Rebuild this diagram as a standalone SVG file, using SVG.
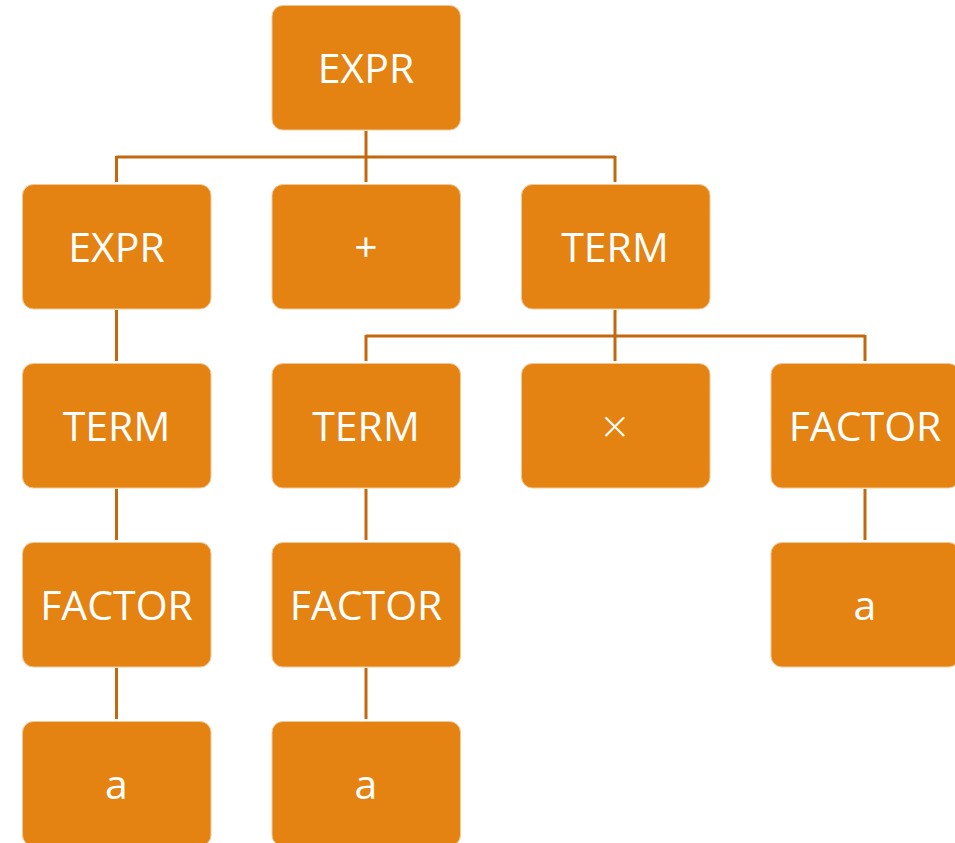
<svg xmlns="http://www.w3.org/2000/svg" width="955" height="843" viewBox="0 0 955 843">
<style>
.box{fill:#E48312;stroke:#F2C898;stroke-width:1}
.lbl{fill:#FFFFFF;font-family:"Open Sans","Liberation Sans",sans-serif;font-size:41px;text-anchor:middle}
.sym{font-size:46px;font-weight:300}
.con{stroke:#C3680E;stroke-width:3;fill:none}
</style>
<rect width="955" height="843" fill="#FFFFFF"/>
<g id="connectors">
<path class="con" d="M366 131V182M116.5 157H615M116.5 156V182M615 156V182"/>
<path class="con" d="M116.5 310V361M116.5 489V540M116.5 668V719"/>
<path class="con" d="M366 489V540M366 668V719"/>
<path class="con" d="M615 310V361M366 336H865M366 335V361M865 335V361"/>
<path class="con" d="M865 489V540"/>
</g>
<g id="n-expr-root"><rect class="box" x="272" y="5.5" width="188.5" height="124.5" rx="11"/><text class="lbl" x="366" y="82.5">EXPR</text></g>
<g id="n-expr"><rect class="box" x="22.5" y="184.5" width="188.5" height="124.5" rx="11"/><text class="lbl" x="116.5" y="261.5">EXPR</text></g>
<g id="n-plus"><rect class="box" x="272" y="184.5" width="188.5" height="124.5" rx="11"/><text class="lbl" x="366" y="261.5">+</text></g>
<g id="n-term-top"><rect class="box" x="521.5" y="184.5" width="188.5" height="124.5" rx="11"/><text class="lbl" x="615" y="261.5">TERM</text></g>
<g id="n-term-left"><rect class="box" x="22.5" y="363.5" width="188.5" height="124.5" rx="11"/><text class="lbl" x="116.5" y="440.5">TERM</text></g>
<g id="n-term-mid"><rect class="box" x="272" y="363.5" width="188.5" height="124.5" rx="11"/><text class="lbl" x="366" y="440.5">TERM</text></g>
<g id="n-times"><rect class="box" x="521.5" y="363.5" width="188.5" height="124.5" rx="11"/><text class="lbl sym" x="615" y="443">×</text></g>
<g id="n-factor-right"><rect class="box" x="771" y="363.5" width="188.5" height="124.5" rx="11"/><text class="lbl" x="865" y="440.5">FACTOR</text></g>
<g id="n-factor-left"><rect class="box" x="22.5" y="542.5" width="188.5" height="124.5" rx="11"/><text class="lbl" x="116.5" y="619.5">FACTOR</text></g>
<g id="n-factor-mid"><rect class="box" x="272" y="542.5" width="188.5" height="124.5" rx="11"/><text class="lbl" x="366" y="619.5">FACTOR</text></g>
<g id="n-a-right"><rect class="box" x="771" y="542.5" width="188.5" height="124.5" rx="11"/><text class="lbl" x="865" y="619.5">a</text></g>
<g id="n-a-left"><rect class="box" x="22.5" y="721.5" width="188.5" height="124.5" rx="11"/><text class="lbl" x="116.5" y="798.5">a</text></g>
<g id="n-a-mid"><rect class="box" x="272" y="721.5" width="188.5" height="124.5" rx="11"/><text class="lbl" x="366" y="798.5">a</text></g>
</svg>
